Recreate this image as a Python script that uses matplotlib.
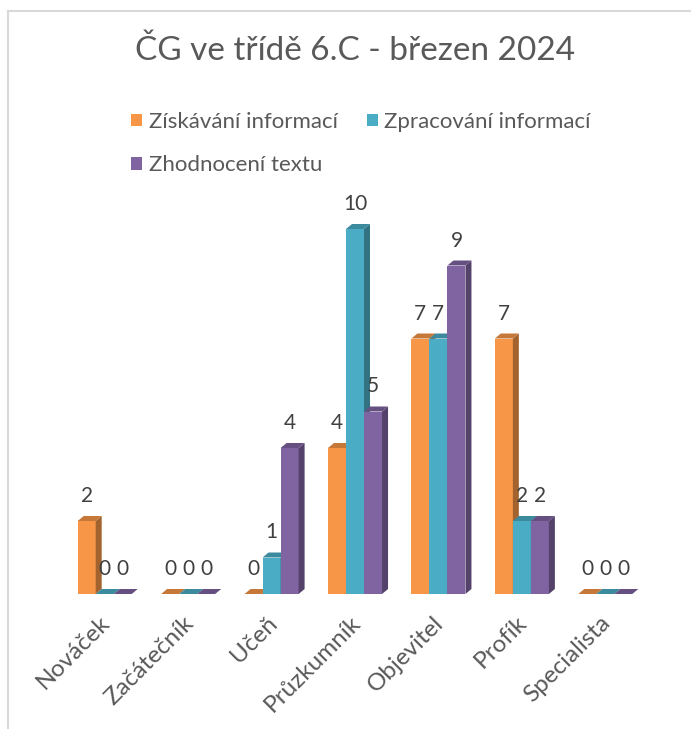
import matplotlib
matplotlib.use("Agg")
import matplotlib.pyplot as plt
from matplotlib.patches import Polygon, Rectangle, Patch
from matplotlib.lines import Line2D
import matplotlib.colors as mcolors
import numpy as np

plt.rcParams['font.family'] = ['Lato', 'DejaVu Sans']

title = "ČG ve třídě 6.C - březen 2024"
categories = ["Nováček", "Začátečník", "Učeň", "Průzkumník", "Objevitel", "Profík", "Specialista"]
series_names = ["Získávání informací", "Zpracování informací", "Zhodnocení textu"]
ziskavani = [2, 0, 0, 4, 7, 7, 0]
zpracovani = [0, 0, 1, 10, 7, 2, 0]
zhodnoceni = [0, 0, 4, 5, 9, 2, 0]
series_values = [ziskavani, zpracovani, zhodnoceni]
colors = ["#F79646", "#4BACC6", "#8064A2"]

W, H = 691, 729
fig = plt.figure(figsize=(W / 100, H / 100), dpi=100)

ax_left, ax_right = 63, 647
ax_bottom_px, ax_top_px = 594, 192.5
ax = fig.add_axes([ax_left / W, (H - ax_bottom_px) / H,
                   (ax_right - ax_left) / W, (ax_bottom_px - ax_top_px) / H])
ax.set_xlim(-0.5, 6.5)
ax.set_ylim(0, 11)
ax.axis('off')

# pixel -> data conversion for 3D depth
px_x = 7.0 / (ax_right - ax_left)
px_y = 11.0 / (ax_bottom_px - ax_top_px)
depth_dx = 6 * px_x
depth_dy = 5 * px_y

def shade(c, f):
    r, g, b = mcolors.to_rgb(c)
    return (r * f, g * f, b * f)

bw = 0.216
x = np.arange(len(categories))
for si, (vals, col) in enumerate(zip(series_values, colors)):
    xs = x + (si - 1) * bw
    side_c = shade(col, 0.66)
    top_c = shade(col, 0.80)
    for xc, h in zip(xs, vals):
        x0, x1 = xc - bw / 2, xc + bw / 2
        if h > 0:
            ax.add_patch(Rectangle((x0, 0), bw, h, facecolor=col, edgecolor='none', zorder=2))
            ax.add_patch(Polygon([(x1, 0), (x1 + depth_dx, depth_dy), (x1 + depth_dx, h + depth_dy), (x1, h)],
                                 closed=True, facecolor=side_c, edgecolor='none', zorder=2))
        ax.add_patch(Polygon([(x0, h), (x1, h), (x1 + depth_dx, h + depth_dy), (x0 + depth_dx, h + depth_dy)],
                             closed=True, facecolor=top_c, edgecolor='none', zorder=2))
        ax.annotate(str(h), xy=(xc, h), xytext=(0, 18), textcoords='offset points',
                    ha='center', va='center', fontsize=15, color='#404040', zorder=3)

for xc, lab in zip(x, categories):
    ax.annotate(lab, xy=(xc, 0), xytext=(-4, -13), textcoords='offset points',
                ha='right', va='top', rotation=45, rotation_mode='anchor',
                fontsize=17.5, color='#595959', annotation_clip=False)

fig.text(355 / W, (H - 60) / H, title, ha='center', va='baseline', fontsize=24, color='#595959')

handles = [Patch(facecolor=c, edgecolor='none') for c in colors]
order = [0, 2, 1]
leg = fig.legend([handles[i] for i in order], [series_names[i] for i in order],
                 ncol=2, loc='upper left', bbox_to_anchor=(131 / W, (H - 112) / H),
                 frameon=False, fontsize=16, handlelength=0.5, handleheight=0.5,
                 handletextpad=0.3, columnspacing=1.3, labelspacing=1.05, borderpad=0,
                 borderaxespad=0)
for t in leg.get_texts():
    t.set_color('#595959')

# chart frame (partially visible)
fig.add_artist(Line2D([8 / W, 8 / W], [0, (H - 11) / H], color='#d9d9d9', lw=1.5))
fig.add_artist(Line2D([8 / W, 1], [(H - 11) / H, (H - 11) / H], color='#d9d9d9', lw=1.5))

fig.savefig("out.png", dpi=100)
